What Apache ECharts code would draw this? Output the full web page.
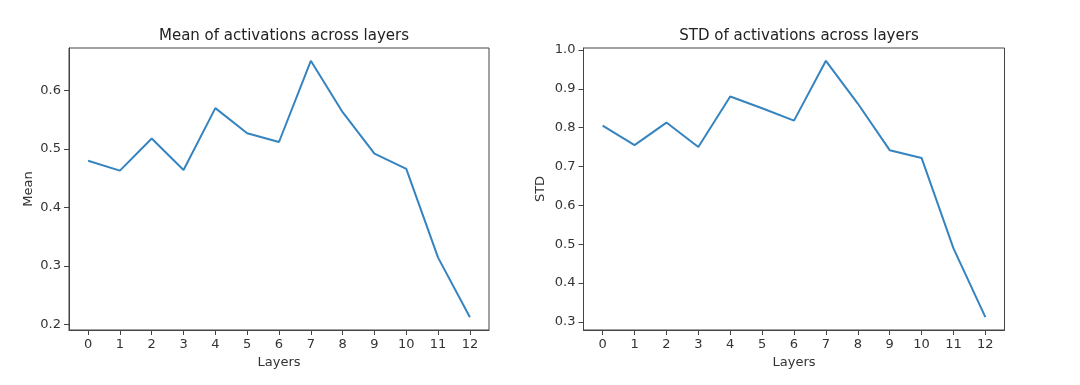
<!DOCTYPE html>
<html>
<head>
<meta charset="utf-8">
<script src="https://cdn.jsdelivr.net/npm/echarts@6/dist/echarts.min.js"></script>
<style>
html,body{margin:0;padding:0;background:#fff;}
#chart{width:1080px;height:385px;}
</style>
</head>
<body>
<div id="chart"></div>
<script>
const layers = [0,1,2,3,4,5,6,7,8,9,10,11,12];
const meanValues = [0.480,0.463,0.518,0.464,0.570,0.527,0.512,0.651,0.563,0.492,0.466,0.314,0.212];
const stdValues = [0.805,0.755,0.813,0.750,0.880,0.850,0.818,0.972,0.862,0.742,0.722,0.489,0.312];
const meanTicks = [0.2,0.3,0.4,0.5,0.6];
const stdTicks = [0.3,0.4,0.5,0.6,0.7,0.8,0.9,1.0];

const textColor = '#333';
const frameColor = '#444';
const font = 'DejaVu Sans';

function pad(arr){
  const mn = Math.min(...arr), mx = Math.max(...arr), m = (mx-mn)*0.05;
  return [mn-m, mx+m];
}
const xr = pad(layers);
const mr = pad(meanValues);
const sr = pad(stdValues);

function xAxis(gi){
  return {
    type:'value', gridIndex:gi, min:xr[0], max:xr[1],
    name:'Layers', nameLocation:'middle', nameGap:25,
    nameTextStyle:{color:textColor, fontFamily:font, fontSize:13},
    axisLine:{show:true, onZero:false, lineStyle:{color:frameColor, width:1}},
    axisTick:{show:true, customValues:layers, length:5, lineStyle:{color:frameColor}},
    axisLabel:{customValues:layers, color:textColor, fontFamily:font, fontSize:13, margin:8},
    splitLine:{show:false}
  };
}
function yAxis(gi, range, ticks, name, gap){
  return {
    type:'value', gridIndex:gi, min:range[0], max:range[1],
    name:name, nameLocation:'middle', nameGap:gap, nameRotate:90,
    nameTextStyle:{color:textColor, fontFamily:font, fontSize:13},
    axisLine:{show:true, onZero:false, lineStyle:{color:frameColor, width:1}},
    axisTick:{show:true, customValues:ticks, length:5, lineStyle:{color:frameColor}},
    axisLabel:{customValues:ticks, color:textColor, fontFamily:font, fontSize:13, margin:8,
      formatter:(v)=>v.toFixed(1)},
    splitLine:{show:false}
  };
}

const chart = echarts.init(document.getElementById('chart'), null, {renderer:'canvas'});
chart.setOption({
  animation:false,
  backgroundColor:'#fff',
  title:[
    {text:'Mean of activations across layers', left:279, top:24, textAlign:'center',
     textStyle:{color:'#222', fontFamily:font, fontSize:15, fontWeight:'normal'}},
    {text:'STD of activations across layers', left:794, top:24, textAlign:'center',
     textStyle:{color:'#222', fontFamily:font, fontSize:15, fontWeight:'normal'}}
  ],
  grid:[
    {left:69, right:591, top:48, bottom:55, show:true, borderColor:frameColor, borderWidth:1, backgroundColor:'transparent'},
    {left:583.5, right:75.5, top:48, bottom:55, show:true, borderColor:frameColor, borderWidth:1, backgroundColor:'transparent'}
  ],
  xAxis:[xAxis(0), xAxis(1)],
  yAxis:[yAxis(0, mr, meanTicks, 'Mean', 34), yAxis(1, sr, stdTicks, 'STD', 36)],
  series:[
    {type:'line', xAxisIndex:0, yAxisIndex:0, data:layers.map((x,i)=>[x,meanValues[i]]),
     showSymbol:false, lineStyle:{color:'#3584c0', width:2}},
    {type:'line', xAxisIndex:1, yAxisIndex:1, data:layers.map((x,i)=>[x,stdValues[i]]),
     showSymbol:false, lineStyle:{color:'#3584c0', width:2}}
  ]
});
</script>
</body>
</html>
